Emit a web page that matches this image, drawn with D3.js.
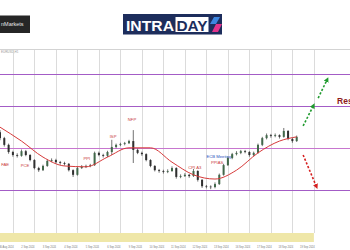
<!DOCTYPE html>
<html>
<head>
<meta charset="utf-8">
<script src="https://cdn.jsdelivr.net/npm/d3@7"></script>
<style>
  body { margin: 0; background: #fff; }
  svg { display: block; }
  text { font-family: "Liberation Sans", Arial, sans-serif; }
</style>
</head>
<body>
<div id="chart"></div>
<script>
// EUR/USD candles, open of each = previous close
var firstOpen = 1.1137;
var closes = [1.1123,1.1107,1.1090,1.1083,1.1081,1.1092,1.1083,1.1071,1.1052,1.1047,
              1.1057,1.1069,1.1071,1.1066,1.1064,1.1062,1.1047,1.1036,1.1052,1.1055,
              1.1057,1.1059,1.1088,1.1083,1.1081,1.1090,1.1102,1.1107,1.1109,1.1111,
              1.1116,1.1095,1.1088,1.1085,1.1071,1.1057,1.1047,1.1045,1.1043,1.1045,
              1.1052,1.1031,1.1033,1.1036,1.1033,1.1045,1.1024,1.1009,1.1008,1.1007,
              1.1014,1.1036,1.1059,1.1076,1.1085,1.1088,1.1092,1.1090,1.1083,1.1088,
              1.1107,1.1123,1.1130,1.1128,1.1130,1.1126,1.1140,1.1121,1.1116,1.1126];
var highs  = [1.1142,1.1126,1.1110,1.1093,1.1087,1.1096,1.1095,1.1085,1.1073,1.1055,
              1.1060,1.1072,1.1075,1.1074,1.1069,1.1067,1.1064,1.1049,1.1055,1.1059,
              1.1060,1.1062,1.1091,1.1091,1.1086,1.1093,1.1119,1.1110,1.1112,1.1114,
              1.1119,1.1142,1.1098,1.1091,1.1087,1.1073,1.1059,1.1050,1.1048,1.1049,
              1.1056,1.1054,1.1037,1.1040,1.1038,1.1050,1.1047,1.1026,1.1012,1.1011,
              1.1018,1.1039,1.1062,1.1079,1.1088,1.1092,1.1095,1.1095,1.1092,1.1091,
              1.1110,1.1126,1.1134,1.1133,1.1134,1.1132,1.1147,1.1142,1.1124,1.1129];
var lows   = [1.1118,1.1103,1.1086,1.1079,1.1077,1.1079,1.1080,1.1068,1.1049,1.1043,
              1.1045,1.1055,1.1066,1.1063,1.1060,1.1058,1.1044,1.1031,1.1034,1.1050,
              1.1052,1.1054,1.1057,1.1080,1.1077,1.1078,1.1083,1.1099,1.1104,1.1106,
              1.1109,1.1064,1.1085,1.1081,1.1068,1.1054,1.1044,1.1041,1.1039,1.1040,
              1.1043,1.1027,1.1028,1.1031,1.1029,1.1031,1.1020,1.1005,1.1004,1.1002,
              1.1004,1.1012,1.1034,1.1057,1.1073,1.1082,1.1085,1.1087,1.1079,1.1080,
              1.1086,1.1104,1.1120,1.1124,1.1125,1.1122,1.1124,1.1118,1.1112,1.1114];

// moving average, sampled every 5 bars
var maBars   = [0,5,10,15,20,25,30,35,40,45,50,55,60,65,69];
var maValues = [1.1149,1.1116,1.1078,1.1057,1.1055,1.1078,1.1100,1.1100,1.1066,1.1036,
                1.1026,1.1047,1.1088,1.1116,1.1126];

// horizontal key levels
var levels = [1.1275, 1.1200, 1.1100, 1.1000];
var levelColors = ["#a35cc6", "#a35cc6", "#c776cf", "#a35cc6"];

// day separators
var dayLabels = ["30 Aug 2024","2 Sep 2024","3 Sep 2024","4 Sep 2024","5 Sep 2024",
                 "6 Sep 2024","9 Sep 2024","10 Sep 2024","11 Sep 2024","12 Sep 2024",
                 "13 Sep 2024","16 Sep 2024","17 Sep 2024","18 Sep 2024","19 Sep 2024"];
var dayBars = [3,8,13,18,23,28,33,38,43,48,53,58,63,68,73];

// news events
var eventNames  = ["FAE","PCE","PPI","ISP","NFP","CPI A3","ECB Meeting","PPIAS"];
var eventBars   = [1.2, 5.8, 20.2, 26.3, 30.7, 45.3, 50.9, 50.5];
var eventPrices = [1.1059,1.1057,1.1074,1.1127,1.1166,1.1052,1.1079,1.1064];
var eventColors = ["#c83a3a","#c83a3a","#c83a3a","#c83a3a","#c83a3a","#c83a3a","#2a52be","#c83a3a"];

// projected scenarios [bar0, price0, bar1, price1]
var upArrows   = [[70.5,1.1152,72.9,1.1200],[74.0,1.1218,76.1,1.1262]];
var downArrows = [[70.5,1.1083,73.6,1.1008]];

var W = 350, H = 250, plotTop = 50, plotBottom = 233;

var x = d3.scaleLinear().domain([0, 81.4]).range([0, W]);
var y = d3.scaleLinear().domain([1.1000, 1.1275]).range([190, 74]);

var svg = d3.select("#chart").append("svg")
    .attr("width", W).attr("height", H);

var defs = svg.append("defs");
function head(id, col) {
  defs.append("marker").attr("id", id)
      .attr("viewBox", "0 0 10 10").attr("refX", 5).attr("refY", 5)
      .attr("markerWidth", 3.2).attr("markerHeight", 3.2)
      .attr("orient", "auto")
    .append("path").attr("d", "M0,0L10,5L0,10z").attr("fill", col);
}
head("gh", "#1f9a2e");
head("rh", "#d62020");

// header
svg.append("rect").attr("x", 0).attr("y", 15.5).attr("width", 30).attr("height", 17.5)
    .attr("fill", "#262626");
svg.append("text").attr("x", 1).attr("y", 26).attr("fill", "#e8e8e8")
    .attr("font-size", 5.5).text("nMarkets");

svg.append("rect").attr("x", 123).attr("y", 14).attr("width", 99).attr("height", 20.5)
    .attr("fill", "#1d2d5c");
svg.append("text").attr("x", 126).attr("y", 31).attr("fill", "#fff")
    .attr("font-size", 15.5).attr("font-weight", "bold")
    .attr("textLength", 48).attr("lengthAdjust", "spacingAndGlyphs").text("INTRA");
svg.append("rect").attr("x", 175.5).attr("y", 17).attr("width", 33).attr("height", 15)
    .attr("fill", "#fff");
svg.append("text").attr("x", 176.5).attr("y", 31).attr("fill", "#1d2d5c")
    .attr("font-size", 15.5).attr("font-weight", "bold")
    .attr("textLength", 31).attr("lengthAdjust", "spacingAndGlyphs").text("DAY");
svg.append("path").attr("d", "M214,17L220,17L216,24L210,24z").attr("fill", "#3d86e0");
svg.append("path").attr("d", "M216,24L222,24L218,32L212,32z").attr("fill", "#e2348c");

svg.append("line").attr("x1", 0).attr("x2", W).attr("y1", 49.5).attr("y2", 49.5)
    .attr("stroke", "#c8c8c8").attr("stroke-width", 0.8);
svg.append("text").attr("x", 1).attr("y", 53).attr("fill", "#999")
    .attr("font-size", 3).text("EURUSD,H1");

// day grid
svg.append("g").selectAll("line").data(dayBars).enter().append("line")
    .attr("x1", function(d) { return Math.round(x(d)) + 0.5; })
    .attr("x2", function(d) { return Math.round(x(d)) + 0.5; })
    .attr("y1", plotTop).attr("y2", plotBottom)
    .attr("stroke", "#d2d2d2").attr("stroke-width", 0.8);

// time axis band
svg.append("rect").attr("x", 0).attr("y", plotBottom)
    .attr("width", x(dayBars[dayBars.length - 1])).attr("height", 9)
    .attr("fill", "#efe7a8");
svg.append("g").selectAll("text").data(dayLabels).enter().append("text")
    .attr("x", function(d, i) { return x(dayBars[i]) - 6.5; })
    .attr("y", 248).attr("text-anchor", "middle")
    .attr("font-size", 2.6).attr("fill", "#777").text(function(d) { return d; });

// key levels
svg.append("g").selectAll("line").data(levels).enter().append("line")
    .attr("x1", 0).attr("x2", W)
    .attr("y1", function(d) { return Math.round(y(d)) + 0.5; })
    .attr("y2", function(d) { return Math.round(y(d)) + 0.5; })
    .attr("stroke", function(d, i) { return levelColors[i]; })
    .attr("stroke-width", 1);

// candles
var bars = closes.map(function(c, i) {
  return { i: i, o: i === 0 ? firstOpen : closes[i - 1], c: c, h: highs[i], l: lows[i] };
});
var bw = 2;
var cg = svg.append("g");
cg.selectAll("line").data(bars).enter().append("line")
    .attr("x1", function(d) { return x(d.i); }).attr("x2", function(d) { return x(d.i); })
    .attr("y1", function(d) { return y(d.h); }).attr("y2", function(d) { return y(d.l); })
    .attr("stroke", "#333").attr("stroke-width", 0.7);
cg.selectAll("rect").data(bars).enter().append("rect")
    .attr("x", function(d) { return x(d.i) - bw / 2; })
    .attr("width", bw)
    .attr("y", function(d) { return y(Math.max(d.o, d.c)); })
    .attr("height", function(d) { return Math.max(0.6, Math.abs(y(d.o) - y(d.c))); })
    .attr("fill", function(d) { return d.c >= d.o ? "#41684a" : "#2f2f2f"; });

// moving average
var ma = d3.line()
    .x(function(d, i) { return x(maBars[i]); })
    .y(function(d) { return y(d); })
    .curve(d3.curveMonotoneX);
svg.append("path").datum(maValues).attr("d", ma)
    .attr("fill", "none").attr("stroke", "#d63a3a").attr("stroke-width", 1);

// events
svg.append("g").selectAll("text").data(eventNames).enter().append("text")
    .attr("x", function(d, i) { return x(eventBars[i]); })
    .attr("y", function(d, i) { return y(eventPrices[i]); })
    .attr("text-anchor", "middle").attr("dominant-baseline", "middle")
    .attr("font-size", 4.2)
    .attr("fill", function(d, i) { return eventColors[i]; })
    .text(function(d) { return d; });

// scenario arrows
function arrows(list, col, mk) {
  svg.append("g").selectAll("line").data(list).enter().append("line")
      .attr("x1", function(d) { return x(d[0]); }).attr("y1", function(d) { return y(d[1]); })
      .attr("x2", function(d) { return x(d[2]); }).attr("y2", function(d) { return y(d[3]); })
      .attr("stroke", col).attr("stroke-width", 1.6)
      .attr("stroke-dasharray", "2.2,1.8")
      .attr("marker-end", "url(#" + mk + ")");
}
arrows(upArrows, "#1f9a2e", "gh");
arrows(downArrows, "#d62020", "rh");

svg.append("text").attr("x", x(78.4)).attr("y", y(1.1200) - 1.5)
    .attr("fill", "#8e1b1b").attr("font-size", 8.5).attr("font-weight", "bold")
    .text("Resistance");
</script>
</body>
</html>
